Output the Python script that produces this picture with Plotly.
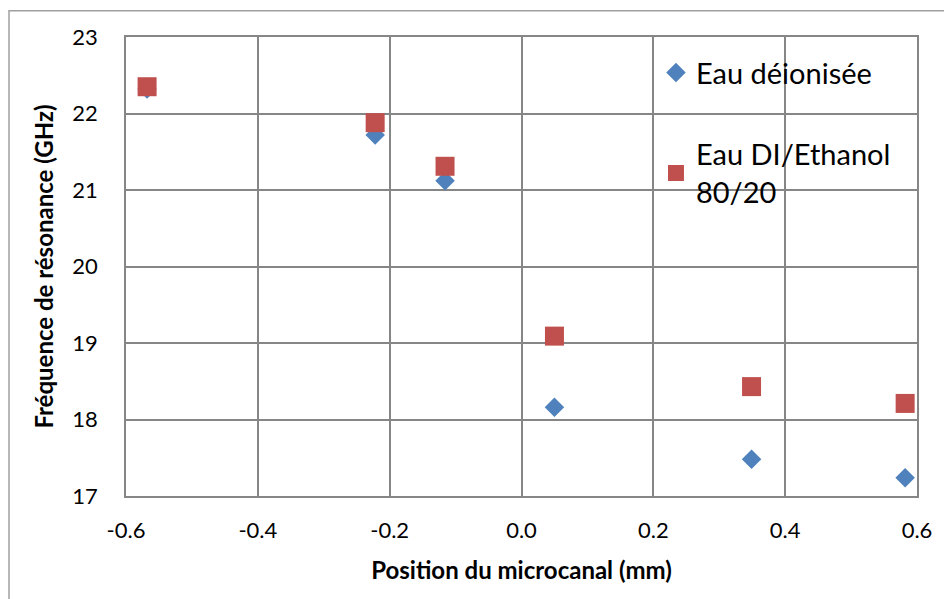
import plotly.graph_objects as go

# positions du microcanal (mm)
position = [-0.568, -0.222, -0.116, 0.050, 0.349, 0.582]
# fréquences de résonance (GHz)
freq_eau_di = [22.32, 21.72, 21.12, 18.16, 17.48, 17.24]
freq_eau_ethanol = [22.35, 21.88, 21.31, 19.09, 18.43, 18.21]

x_ticks = [-0.6, -0.4, -0.2, 0.0, 0.2, 0.4, 0.6]
x_ticklabels = ["-0.6", "-0.4", "-0.2", "0.0", "0.2", "0.4", "0.6"]

FONT = "Lato"
GRID = "#868686"

fig = go.Figure()
fig.add_trace(go.Scatter(
    x=position, y=freq_eau_di, mode="markers", name="Eau déionisée",
    legendgroup="a",
    marker=dict(symbol="diamond", size=15, color="#4F81BD"),
))
fig.add_trace(go.Scatter(
    x=position, y=freq_eau_ethanol, mode="markers",
    name="Eau DI/Ethanol<br>80/20", legendgroup="b",
    marker=dict(symbol="square", size=19, color="#C0504D"),
))

axis_common = dict(
    showgrid=True, gridcolor=GRID, gridwidth=1.5,
    showline=True, linecolor=GRID, linewidth=1.5, mirror=True,
    zeroline=False, ticks="",
    tickfont=dict(family=FONT, size=22, color="black"),
)

fig.update_layout(
    width=952, height=599,
    margin=dict(l=118, r=43, t=29, b=111),
    paper_bgcolor="white", plot_bgcolor="white",
    xaxis=dict(
        range=[-0.6, 0.6], tickvals=x_ticks, ticktext=x_ticklabels,
        ticklabelstandoff=14,
        title=dict(text="<b>Position du microcanal (mm)</b>",
                   font=dict(family=FONT, size=24, color="black"), standoff=20),
        **axis_common,
    ),
    yaxis=dict(
        range=[17, 23], dtick=1, ticklabelstandoff=22,
        title=dict(text="<b>Fréquence de résonance (GHz)</b>",
                   font=dict(family=FONT, size=24, color="black"), standoff=12),
        **axis_common,
    ),
    legend=dict(
        x=0.67, y=0.978, xanchor="left", yanchor="top",
        bgcolor="rgba(0,0,0,0)",
        font=dict(family=FONT, size=29, color="black"),
        traceorder="grouped", tracegroupgap=41,
    ),
    # cadre du graphique
    shapes=[dict(
        type="rect", xref="paper", yref="paper",
        x0=-0.1479, x1=1.2, y0=-0.5, y1=1.057,
        line=dict(color="#A0A0A0", width=1.5), fillcolor="rgba(0,0,0,0)",
        layer="below",
    )],
)

fig.write_html("out.html")
